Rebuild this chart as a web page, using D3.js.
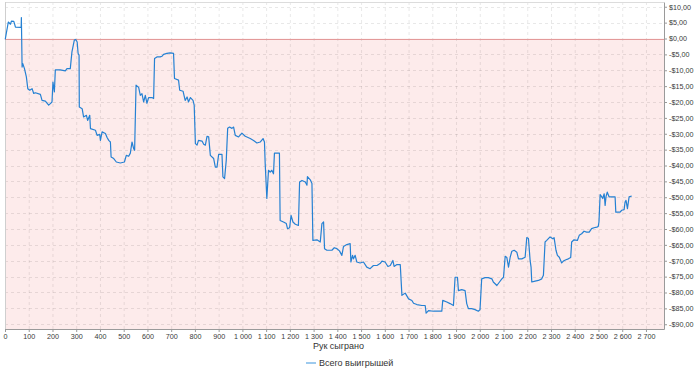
<!DOCTYPE html>
<html>
<head>
<meta charset="utf-8">
<script src="https://cdn.jsdelivr.net/npm/d3@7"></script>
<style>
  body { margin: 0; background: #fff; }
  svg { display: block; font-family: "Liberation Sans", Arial, sans-serif; }
</style>
</head>
<body>
<div id="mainDiv"></div>
<script>
// hands played (x) and total winnings in $ (y)
const hands = [
  1, 14, 23, 27, 37, 40, 44, 68, 69, 72, 75, 82, 90, 96, 104, 114, 121, 128, 149, 156,
  170, 184, 191, 198, 202, 208, 212, 233, 254, 261, 275, 282, 292, 298, 304, 308, 312, 313, 325, 331,
  343, 348, 357, 360, 381, 388, 399, 402, 409, 423, 430, 437, 444, 447, 458, 469, 486, 503, 511, 521,
  528, 535, 542, 546, 552, 563, 570, 577, 584, 591, 598, 605, 619, 626, 630, 640, 654, 661, 668, 682,
  696, 710, 714, 731, 736, 750, 759, 767, 773, 781, 792, 797, 802, 809, 815, 830, 837, 844, 851, 858,
  865, 879, 886, 893, 900, 914, 918, 925, 932, 938, 946, 956, 963, 970, 984, 998, 1012, 1033, 1047, 1061,
  1075, 1087, 1093, 1096, 1103, 1110, 1117, 1124, 1131, 1135, 1156, 1159, 1173, 1185, 1190, 1199, 1205, 1213, 1223, 1236,
  1241, 1251, 1265, 1272, 1274, 1286, 1293, 1297, 1314, 1328, 1335, 1342, 1346, 1356, 1377, 1387, 1398, 1409, 1419, 1426,
  1440, 1454, 1457, 1464, 1468, 1475, 1482, 1496, 1510, 1524, 1538, 1552, 1567, 1580, 1588, 1601, 1613, 1623, 1634, 1639,
  1651, 1665, 1672, 1686, 1700, 1714, 1721, 1735, 1756, 1770, 1774, 1784, 1805, 1826, 1840, 1844, 1861, 1875, 1889, 1896,
  1906, 1910, 1924, 1938, 1945, 1952, 1966, 1980, 1994, 2001, 2008, 2022, 2036, 2051, 2057, 2072, 2083, 2093, 2100, 2107,
  2114, 2121, 2128, 2135, 2145, 2156, 2163, 2177, 2191, 2198, 2205, 2212, 2216, 2219, 2233, 2247, 2261, 2268, 2275, 2282,
  2296, 2308, 2313, 2321, 2327, 2335, 2345, 2352, 2363, 2373, 2383, 2387, 2397, 2411, 2419, 2429, 2439, 2450, 2461, 2471,
  2481, 2493, 2499, 2502, 2507, 2514, 2518, 2524, 2528, 2532, 2537, 2545, 2556, 2570, 2573, 2591, 2598, 2608, 2612, 2616,
  2622, 2629, 2640
];

const winnings = [
  -0.3, 5.2, 4.5, 5.5, 5.4, 4.7, 3.6, 3.5, 6.6, -9.0, -7.9, -9.5, -12.1, -15.8, -16.3, -15.8, -17.3, -17.1, -17.6, -19.5,
  -19.7, -21.0, -20.5, -20.0, -13.7, -16.8, -9.9, -9.9, -10.2, -9.5, -9.5, -4.2, -0.5, -0.3, -1.1, -4.7, -5.3, -21.6, -22.1, -24.7,
  -24.2, -25.8, -24.2, -28.4, -28.9, -30.5, -30.2, -32.1, -29.4, -29.9, -31.2, -32.1, -32.6, -37.3, -37.8, -38.9, -39.2, -38.9, -36.8, -37.1,
  -36.1, -32.6, -34.7, -35.2, -14.7, -15.4, -17.9, -17.4, -20.0, -17.9, -20.4, -18.6, -18.6, -18.9, -6.3, -5.8, -5.8, -5.6, -5.0, -4.7,
  -4.5, -4.7, -12.6, -13.1, -16.3, -16.6, -19.5, -18.4, -20.0, -18.6, -19.5, -21.0, -33.1, -33.6, -32.1, -32.3, -33.3, -33.6, -30.8, -31.0,
  -36.8, -37.8, -40.5, -40.5, -36.5, -36.5, -43.6, -44.1, -38.4, -28.3, -27.9, -28.3, -27.9, -30.5, -31.0, -29.8, -30.8, -31.5, -32.1, -32.9,
  -32.6, -31.5, -32.6, -39.4, -50.4, -41.5, -42.1, -41.5, -42.6, -36.1, -36.1, -57.3, -57.8, -58.3, -59.9, -59.6, -55.7, -57.8, -58.5, -58.9,
  -45.2, -44.7, -45.2, -46.2, -43.5, -44.5, -45.7, -63.6, -63.4, -64.1, -58.3, -57.8, -66.2, -66.7, -66.7, -65.9, -66.2, -66.9, -68.3, -65.5,
  -64.9, -64.6, -70.4, -68.3, -69.4, -68.3, -70.4, -70.7, -70.4, -72.0, -72.5, -71.5, -71.5, -70.9, -70.1, -70.4, -71.8, -71.5, -69.9, -71.8,
  -71.2, -71.2, -80.9, -80.2, -82.0, -82.5, -83.4, -83.8, -84.1, -84.1, -86.5, -85.7, -85.9, -85.9, -85.9, -82.5, -83.0, -83.5, -84.1, -75.2,
  -75.2, -79.4, -79.1, -79.4, -83.5, -85.1, -85.1, -85.4, -85.9, -85.4, -75.7, -75.3, -75.3, -75.7, -76.7, -77.8, -76.7, -75.7, -75.2, -68.6,
  -69.0, -72.0, -68.9, -67.0, -66.7, -67.3, -69.4, -69.4, -68.9, -62.7, -63.0, -69.9, -72.0, -76.7, -76.4, -76.2, -75.7, -74.6, -64.1, -63.6,
  -62.5, -63.1, -62.7, -66.7, -68.3, -68.9, -70.7, -70.1, -69.7, -69.4, -69.0, -64.1, -63.4, -63.6, -62.0, -61.5, -60.7, -61.0, -61.0, -59.9,
  -59.6, -59.4, -59.2, -57.8, -49.2, -49.9, -50.4, -48.9, -52.6, -49.7, -48.4, -49.9, -49.9, -49.9, -54.7, -54.7, -54.1, -53.9, -51.5, -51.0,
  -53.6, -49.9, -49.6
];

const xTicks = d3.range(0, 2701, 100);
const yTicks = d3.range(-90, 11, 5);
const seriesName = "Всего выигрышей";
const xTitle = "Рук сыграно";

const chartSize = {
  width: 700,
  height: 376,
  margin: { top: 2, right: 36, bottom: 47, left: 5 },
};

const ruLocale = d3.formatLocale({
  decimal: ",",
  thousands: " ",
  grouping: [3],
  currency: ["$", ""],
});
const formatHands = ruLocale.format(",d");
const formatMoney = v => (v < 0 ? "-" : "") + "$" + Math.abs(v).toFixed(2).replace(".", ",");

const points = hands.map((h, i) => ({ h, v: winnings[i] }));

const x = d3.scaleLinear()
  .domain([0, 2776])
  .range([chartSize.margin.left, chartSize.width - chartSize.margin.right]);

const y = d3.scaleLinear()
  .domain([-91.5, 11.5])
  .range([chartSize.height - chartSize.margin.bottom, chartSize.margin.top]);

const svg = d3.select("#mainDiv")
  .append("svg")
  .attr("width", chartSize.width)
  .attr("height", chartSize.height);

const plotLeft = x.range()[0];
const plotRight = x.range()[1];
const plotTop = y.range()[1];
const plotBottom = y.range()[0];

// pink zone below zero
svg.append("rect")
  .attr("x", plotLeft)
  .attr("y", y(0))
  .attr("width", plotRight - plotLeft)
  .attr("height", plotBottom - y(0))
  .attr("fill", "#fdebeb");

// grid
svg.append("g")
  .selectAll("line")
  .data(xTicks.slice(1))
  .join("line")
  .attr("x1", d => x(d) + 0.5)
  .attr("x2", d => x(d) + 0.5)
  .attr("y1", plotTop)
  .attr("y2", plotBottom)
  .attr("stroke", "rgba(0,0,0,0.09)")
  .attr("stroke-dasharray", "3,3");

svg.append("g")
  .selectAll("line")
  .data(yTicks.filter(d => d !== 0))
  .join("line")
  .attr("x1", plotLeft)
  .attr("x2", plotRight)
  .attr("y1", d => Math.round(y(d)) + 0.5)
  .attr("y2", d => Math.round(y(d)) + 0.5)
  .attr("stroke", "rgba(0,0,0,0.09)")
  .attr("stroke-dasharray", "3,3");

// frame top and left
svg.append("line")
  .attr("x1", plotLeft).attr("x2", plotRight)
  .attr("y1", plotTop + 0.5).attr("y2", plotTop + 0.5)
  .attr("stroke", "#dcdcdc");
svg.append("line")
  .attr("x1", plotLeft + 0.5).attr("x2", plotLeft + 0.5)
  .attr("y1", plotTop).attr("y2", plotBottom)
  .attr("stroke", "#cfcfcf");

// zero line
svg.append("line")
  .attr("x1", plotLeft).attr("x2", plotRight)
  .attr("y1", Math.round(y(0)) + 0.5).attr("y2", Math.round(y(0)) + 0.5)
  .attr("stroke", "#e39a9a");

// series
const line = d3.line()
  .x(d => x(d.h))
  .y(d => y(d.v));

svg.append("path")
  .datum(points)
  .attr("fill", "none")
  .attr("stroke", "#2581d3")
  .attr("stroke-width", 1.2)
  .attr("stroke-linejoin", "round")
  .attr("d", line);

// axes
const xAxis = g => g
  .attr("transform", `translate(0,${plotBottom})`)
  .call(d3.axisBottom(x)
    .tickValues(xTicks)
    .tickFormat(formatHands)
    .tickSize(3)
    .tickSizeOuter(0)
    .tickPadding(2));

const yAxis = g => g
  .attr("transform", `translate(${plotRight},0)`)
  .call(d3.axisRight(y)
    .tickValues(yTicks)
    .tickFormat(formatMoney)
    .tickSize(3)
    .tickSizeOuter(0)
    .tickPadding(2));

[svg.append("g").call(xAxis), svg.append("g").call(yAxis)].forEach(g => {
  g.select(".domain").attr("stroke", "#9a9a9a");
  g.selectAll(".tick line").attr("stroke", "#9a9a9a");
  g.selectAll(".tick text")
    .attr("fill", "#3a3a3a")
    .attr("font-size", 7.2)
    .attr("font-family", "\"Liberation Sans\", Arial, sans-serif");
});

// axis title
svg.append("text")
  .attr("x", (plotLeft + plotRight) / 2 + 4)
  .attr("y", plotBottom + 20)
  .attr("text-anchor", "middle")
  .attr("font-size", 9)
  .attr("fill", "#333")
  .text(xTitle);

// legend
const legend = svg.append("g")
  .attr("transform", `translate(306,${plotBottom + 34})`);
legend.append("line")
  .attr("x1", 0).attr("x2", 10)
  .attr("y1", 0).attr("y2", 0)
  .attr("stroke", "#7db8e8")
  .attr("stroke-width", 1.5);
legend.append("text")
  .attr("x", 13)
  .attr("y", 3)
  .attr("font-size", 9)
  .attr("fill", "#333")
  .text(seriesName);
</script>
</body>
</html>
